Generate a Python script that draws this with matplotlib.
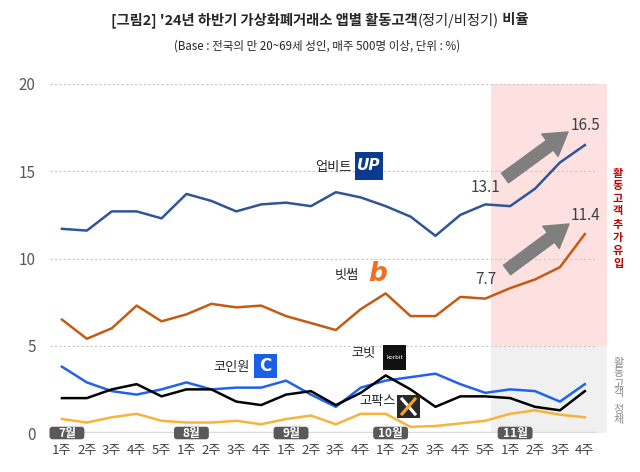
import matplotlib
matplotlib.use("Agg")
import matplotlib.pyplot as plt
from matplotlib.patches import Rectangle, FancyBboxPatch, FancyArrowPatch
from matplotlib.lines import Line2D

plt.rcParams['font.family'] = ['Noto Sans CJK KR', 'DejaVu Sans']

# Data
weeks = ['1주', '2주', '3주', '4주', '5주',
         '1주', '2주', '3주', '4주',
         '1주', '2주', '3주', '4주',
         '1주', '2주', '3주', '4주', '5주',
         '1주', '2주', '3주', '4주']
months = ['7월', '8월', '9월', '10월', '11월']
month_start = [0, 5, 9, 13, 18]

upbit = [11.7, 11.6, 12.7, 12.7, 12.3, 13.7, 13.3, 12.7, 13.1, 13.2, 13.0,
         13.8, 13.5, 13.0, 12.4, 11.3, 12.5, 13.1, 13.0, 14.0, 15.5, 16.5]
bithumb = [6.5, 5.4, 6.0, 7.3, 6.4, 6.8, 7.4, 7.2, 7.3, 6.7, 6.3,
           5.9, 7.1, 8.0, 6.7, 6.7, 7.8, 7.7, 8.3, 8.8, 9.5, 11.4]
coinone = [3.8, 2.9, 2.4, 2.2, 2.5, 2.9, 2.5, 2.6, 2.6, 3.0, 2.2,
           1.5, 2.6, 3.0, 3.2, 3.4, 2.8, 2.3, 2.5, 2.4, 1.8, 2.8]
korbit = [2.0, 2.0, 2.5, 2.8, 2.1, 2.5, 2.5, 1.8, 1.6, 2.2, 2.4,
          1.6, 2.3, 3.3, 2.5, 1.5, 2.1, 2.1, 2.0, 1.5, 1.3, 2.4]
gopax = [0.8, 0.6, 0.9, 1.1, 0.7, 0.6, 0.6, 0.7, 0.5, 0.8, 1.0,
         0.5, 1.1, 1.1, 0.35, 0.4, 0.55, 0.7, 1.1, 1.3, 1.05, 0.9]

x = list(range(len(weeks)))

fig = plt.figure(figsize=(6.4, 4.72), dpi=100)
ax = fig.add_axes([49.5 / 640, 1 - 433 / 472, (607 - 49.5) / 640, (433 - 84) / 472])
ax.set_xlim(-0.5, 21.89)
ax.set_ylim(0, 20)

# shaded recent period
ax.add_patch(Rectangle((17.25, 5), 21.89 - 17.25, 15, color='#fde1e1', lw=0, zorder=0))
ax.add_patch(Rectangle((17.25, 0), 21.89 - 17.25, 5, color='#f0f0f0', lw=0, zorder=0))

# grid
ax.hlines([5, 10, 15, 20], -0.5, 21.5, colors='#c8c8c8', linestyles=(0, (2, 2)), lw=0.8, zorder=1)
ax.hlines(0, -0.5, 21.5, colors='#d9d9d9', lw=2.5, zorder=1)

# lines
ax.plot(x, gopax, color='#f7b33b', lw=1.8, zorder=3)
ax.plot(x, korbit, color='#000000', lw=1.8, zorder=4)
ax.plot(x, coinone, color='#1f63ec', lw=1.8, zorder=3)
ax.plot(x, bithumb, color='#c55a11', lw=1.8, zorder=3)
ax.plot(x, upbit, color='#2f5597', lw=1.8, zorder=3)

for s in ax.spines.values():
    s.set_visible(False)
ax.set_yticks([0, 5, 10, 15, 20])
ax.tick_params(axis='y', length=0, pad=10, labelsize=11, labelcolor='#595959')
ax.set_xticks(x)
ax.set_xticklabels(weeks)
ax.tick_params(axis='x', length=0, pad=8, labelsize=9.5, labelcolor='#404040')

# month boxes
for m, i in zip(months, month_start):
    cx = i + 0.2
    ax.add_patch(FancyBboxPatch((cx - 0.7, -0.36), 1.4, 0.72,
                                boxstyle='round,pad=0,rounding_size=0.12',
                                fc='#595959', ec='none', clip_on=False, zorder=5,
                                mutation_aspect=1.4))
    ax.text(cx, 0, m, ha='center', va='center', color='white', fontsize=8.5,
            fontweight='bold', zorder=6, clip_on=False)


def fx(px):
    return px / 640


def fy(py):
    return 1 - py / 472


# title with mixed weights
r = fig.canvas.get_renderer()
parts = [("[그림2] '24년 하반기 가상화폐거래소 앱별 활동고객", 'bold'),
         ("(정기/비정기)", 'normal'), (" 비율", 'bold')]
texts = [fig.text(0, fy(20), p, fontsize=10.3, fontweight=w, color='#262626', va='center')
         for p, w in parts]
widths = [t.get_window_extent(r).width for t in texts]
start = 320 - sum(widths) / 2
for t, w in zip(texts, widths):
    t.set_x(fx(start))
    start += w
fig.text(fx(317), fy(46), '(Base : 전국의 만 20~69세 성인, 매주 500명 이상, 단위 : %)',
         fontsize=8.3, color='#262626', ha='center', va='center')

# brand labels and logos
lab = dict(fontsize=9.5, color='#262626', ha='center', va='center', fontweight='medium')
fig.text(fx(333), fy(168), '업비트', **lab)
fig.text(fx(347), fy(275), '빗썸', **lab)
fig.text(fx(232), fy(367), '코인원', **lab)
fig.text(fx(363), fy(353), '코빗', **lab)
fig.text(fx(378), fy(402), '고팍스', **lab)


def box(x0, y0, x1, y1, color):
    fig.add_artist(Rectangle((fx(x0), fy(y1)), fx(x1 - x0), (y1 - y0) / 472,
                             transform=fig.transFigure, fc=color, ec='none'))


box(355, 152, 383, 180, '#0a3b8f')
fig.text(fx(369), fy(166), 'UP', color='white', fontsize=11, fontweight='bold',
         style='italic', ha='center', va='center', family='DejaVu Sans')
fig.text(fx(378), fy(274), 'b', color='#f26f21', fontsize=19, fontweight='bold',
         style='italic', ha='center', va='center', family='DejaVu Sans')
box(254, 354, 277, 378, '#1a5fe6')
fig.text(fx(265.5), fy(366), 'C', color='white', fontsize=12, fontweight='bold',
         ha='center', va='center', family='DejaVu Sans')
box(383, 345, 406, 370, '#111111')
fig.text(fx(394.5), fy(357.5), 'korbit', color='white', fontsize=4.2,
         ha='center', va='center', family='DejaVu Sans')
box(397, 395, 420, 418, '#2a2a2a')
fig.add_artist(Line2D([fx(402), fx(415)], [fy(399), fy(414)], color='white', lw=2.2,
                      transform=fig.transFigure))
fig.add_artist(Line2D([fx(415), fx(402)], [fy(399), fy(414)], color='#f5a623', lw=2.2,
                      transform=fig.transFigure))

# value labels
val = dict(fontsize=11, color='#404040', ha='center', va='center')
fig.text(fx(585), fy(126), '16.5', **val)
fig.text(fx(585), fy(216), '11.4', **val)
fig.text(fx(486), fy(187), '13.1', **val)
fig.text(fx(486), fy(280), '7.7', **val)

# arrows
for tail, tip in [((505, 178), (568, 132)), ((507, 270), (569, 224))]:
    fig.add_artist(FancyArrowPatch(
        (fx(tail[0]), fy(tail[1])), (fx(tip[0]), fy(tip[1])),
        transform=fig.transFigure,
        arrowstyle='simple,head_width=1.05,head_length=0.85,tail_width=0.45',
        mutation_scale=19, color='#7f7f7f', shrinkA=0, shrinkB=0))

# vertical side notes, one text per word
red = dict(ha='center', va='center', fontsize=8, color='#c00000',
           fontweight='bold', linespacing=0.95)
for word, yc in [('활동고객', 192), ('추가', 231), ('유입', 257)]:
    fig.text(fx(618), fy(yc), '\n'.join(word), **red)
grey = dict(ha='center', va='center', fontsize=8, color='#8c8c8c', linespacing=1.02)
for word, yc in [('활동고객', 378), ('정체', 415)]:
    fig.text(fx(619), fy(yc), '\n'.join(word), **grey)

fig.savefig('out.png', dpi=100)
